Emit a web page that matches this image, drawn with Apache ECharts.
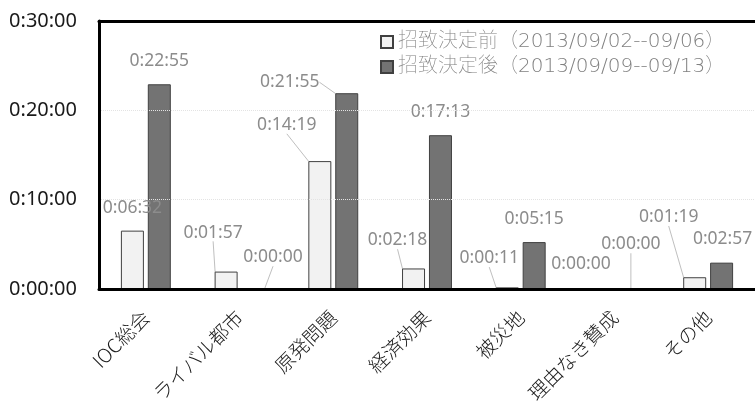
<!DOCTYPE html>
<html>
<head>
<meta charset="utf-8">
<script src="https://cdn.jsdelivr.net/npm/echarts@6/dist/echarts.min.js"></script>
<style>
  html, body { margin: 0; padding: 0; background: #fff; }
  #chart { width: 755px; height: 406px; }
</style>
</head>
<body>
<div id="chart"></div>
<script>
// Categories (reasons) on the x axis
const categories = ['IOC総会', 'ライバル都市', '原発問題', '経済効果', '被災地', '理由なき賛成', 'その他'];

// Series names
const seriesNames = ['招致決定前（2013/09/02--09/06）', '招致決定後（2013/09/09--09/13）'];

// Airtime in seconds
const beforeSeconds = [392, 117, 859, 138, 11, 0, 79];
const afterSeconds = [1375, 0, 1315, 1033, 315, 0, 177];

// Y axis ticks in seconds (0:00:00 .. 0:30:00)
const yTicks = [0, 600, 1200, 1800];

// Label displacement [dx, dy] and whether a leader line is drawn
const beforeLabelShift = [[0, 0, false], [-13, -16, true], [-33, -13, true], [-16, -5, true], [-18, -6, true], [-20, -1, false], [-26, -37, true]];
const afterLabelShift = [[0, 0, false], [20, -8, true], [-57, 12, true], [0, 0, false], [0, 0, false], [3, -21, true], [1, -1, false]];

function hms(sec) {
  const h = Math.floor(sec / 3600);
  const m = Math.floor((sec % 3600) / 60);
  const s = Math.round(sec % 60);
  return h + ':' + String(m).padStart(2, '0') + ':' + String(s).padStart(2, '0');
}

const shifts = [beforeLabelShift, afterLabelShift];
const LATIN = '"Noto Sans", "Noto Sans CJK JP", sans-serif';
const CJK = '"Noto Sans CJK JP", "Noto Sans", sans-serif';
const LEGEND_FONT = '"DejaVu Sans", "Noto Sans CJK JP", sans-serif';

function makeData(values, shift) {
  return values.map((v, i) => ({
    value: v,
    labelLine: { show: shift[i][2] }
  }));
}

const labelStyle = {
  show: true,
  position: 'top',
  distance: 15,
  color: '#8c8c8c',
  fontSize: 17.5,
  lineHeight: 16,
  fontFamily: LATIN,
  formatter: p => hms(p.value)
};

const frameLine = { show: true, lineStyle: { color: '#000', width: 3 } };

const chart = echarts.init(document.getElementById('chart'), null, { renderer: 'canvas' });

chart.setOption({
  animation: false,
  backgroundColor: '#fff',
  grid: { left: 99, top: 21, right: -6, bottom: 117, show: false },
  legend: {
    orient: 'vertical',
    left: 375, top: 27,
    itemWidth: 12, itemHeight: 12, itemGap: 5,
    icon: 'rect',
    textStyle: { color: '#808080', fontSize: 20, fontFamily: LEGEND_FONT, fontWeight: 'lighter' },
    data: seriesNames
  },
  xAxis: [
    {
      type: 'category',
      data: categories,
      z: 5,
      axisLine: frameLine,
      axisTick: { show: false },
      axisLabel: { rotate: 45, margin: 25, color: '#1a1a1a', fontSize: 19.5, fontFamily: CJK, fontWeight: 300, interval: 0 }
    },
    {
      type: 'category',
      position: 'top',
      data: categories,
      z: 5,
      axisLine: frameLine,
      axisTick: { show: false },
      axisLabel: { show: false }
    }
  ],
  yAxis: {
    type: 'value',
    min: yTicks[0], max: yTicks[yTicks.length - 1], interval: yTicks[1] - yTicks[0],
    z: 5,
    axisLine: frameLine,
    axisTick: { show: false },
    axisLabel: { margin: 22, color: '#1a1a1a', fontSize: 20, fontFamily: LATIN, formatter: v => hms(v) },
    splitLine: { show: true, showMinLine: false, showMaxLine: false, lineStyle: { color: '#e3e3e3', type: 'dotted', width: 1 } }
  },
  series: [
    {
      name: seriesNames[0],
      type: 'bar',
      barWidth: 23,
      barGap: '17%',
      data: makeData(beforeSeconds, beforeLabelShift),
      itemStyle: { color: '#f2f2f2', borderColor: '#404040', borderWidth: 1 },
      label: labelStyle,
      labelLine: { lineStyle: { color: '#bfbfbf', width: 1 } },
      labelLayout: p => ({ dx: shifts[0][p.dataIndex][0], dy: shifts[0][p.dataIndex][1] })
    },
    {
      name: seriesNames[1],
      type: 'bar',
      barWidth: 23,
      barGap: '17%',
      data: makeData(afterSeconds, afterLabelShift),
      itemStyle: { color: '#737373', borderColor: '#404040', borderWidth: 1 },
      label: labelStyle,
      labelLine: { lineStyle: { color: '#bfbfbf', width: 1 } },
      labelLayout: p => ({ dx: shifts[1][p.dataIndex][0], dy: shifts[1][p.dataIndex][1] })
    }
  ]
});
</script>
</body>
</html>
